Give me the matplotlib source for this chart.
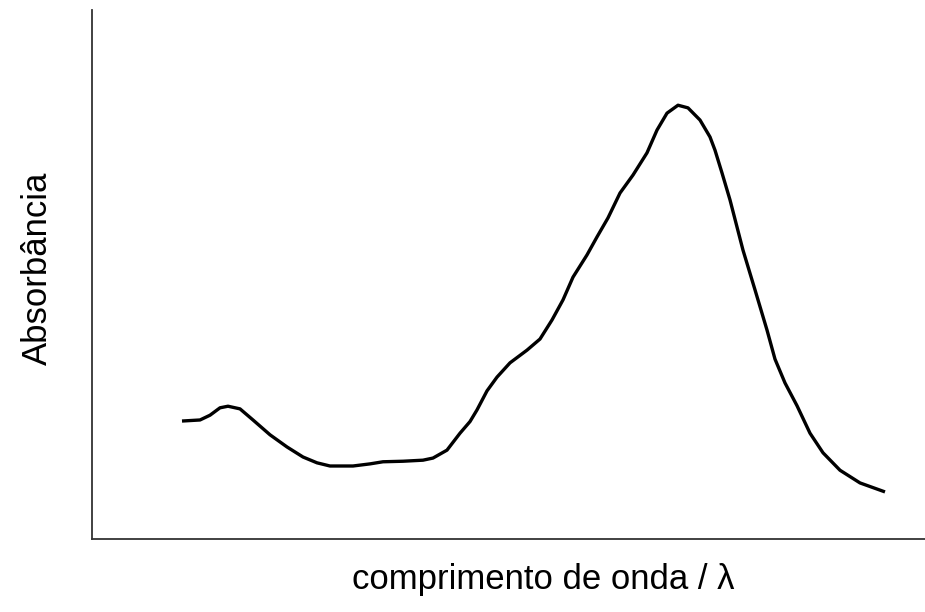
import matplotlib
matplotlib.use("Agg")
import matplotlib.pyplot as plt

# wavelength (arbitrary units) and absorbance (arbitrary units)
wavelength = [182, 200, 210, 220, 228, 240, 253, 270, 287, 303, 317, 330, 353, 370, 383,
              403, 423, 433, 447, 460, 470, 477, 487, 497, 510, 527, 540, 552, 563, 573,
              587, 597, 608, 620, 633, 647, 657, 667, 678, 688, 700, 710, 715, 722, 730,
              743, 755, 767, 775, 785, 797, 810, 823, 840, 860, 885]
absorbance = [0.223, 0.225, 0.234, 0.248, 0.251, 0.246, 0.225, 0.197, 0.174, 0.155, 0.144,
              0.138, 0.138, 0.142, 0.146, 0.147, 0.149, 0.153, 0.168, 0.200, 0.222, 0.244,
              0.280, 0.306, 0.333, 0.357, 0.378, 0.414, 0.452, 0.495, 0.537, 0.571, 0.607,
              0.654, 0.688, 0.730, 0.773, 0.805, 0.820, 0.815, 0.792, 0.760, 0.735, 0.692,
              0.641, 0.546, 0.471, 0.395, 0.340, 0.295, 0.252, 0.200, 0.163, 0.130, 0.106,
              0.089]

plt.rcParams['font.family'] = ['Liberation Sans', 'DejaVu Sans']

fig = plt.figure(figsize=(9.25, 6.12), dpi=100)
ax = fig.add_axes([92/925, 1 - 539/612, 1 - 92/925, 529/612])
ax.plot(wavelength, absorbance, color='black', lw=2.4, solid_capstyle='butt', solid_joinstyle='round')

ax.set_xlim(92, 925)
ax.set_ylim(0, 1)
ax.set_xticks([])
ax.set_yticks([])
for s in ['top', 'right']:
    ax.spines[s].set_visible(False)
for s in ['left', 'bottom']:
    ax.spines[s].set_linewidth(1.3)
    ax.spines[s].set_color('#333333')

fig.text(543/925, 1 - 580/612, 'comprimento de onda / λ', fontsize=25, ha='center', va='center')
fig.text(37/925, 1 - 268/612, 'Absorbância', fontsize=25, rotation=90, ha='center', va='center')

fig.savefig('out.png', dpi=100)
